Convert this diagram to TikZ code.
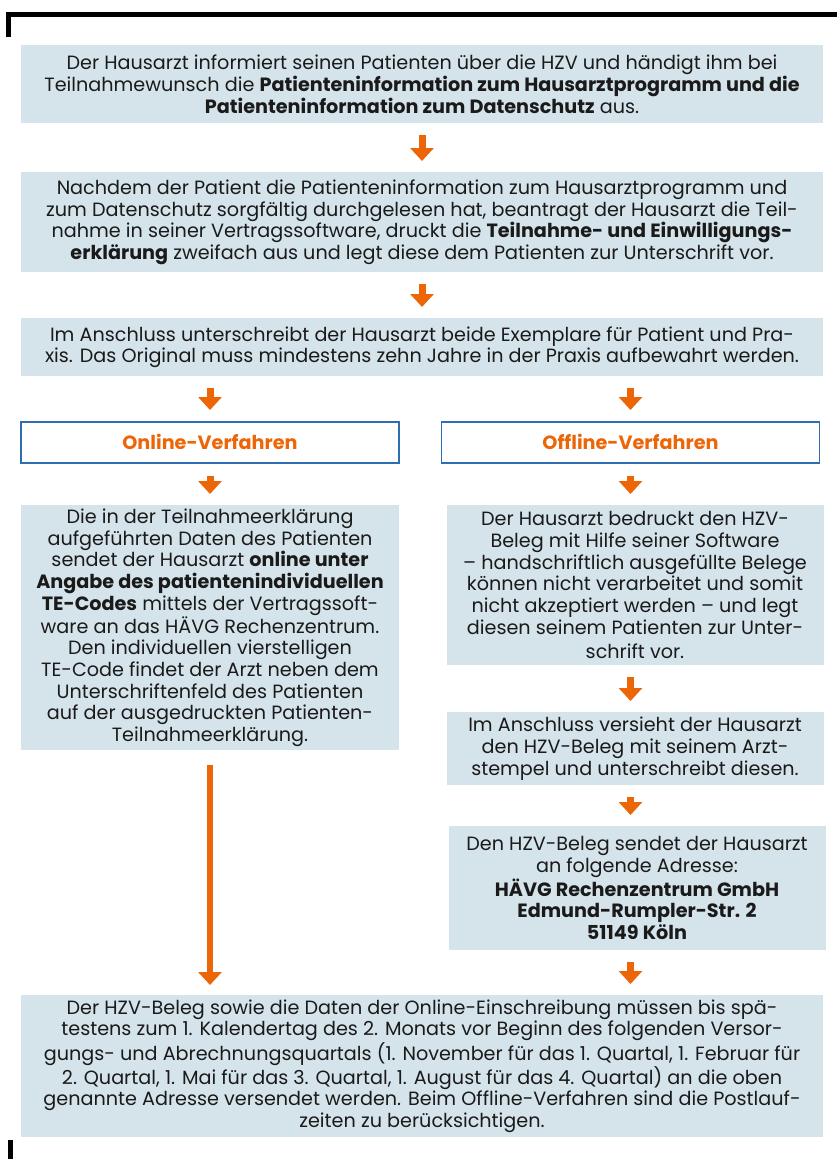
\documentclass[tikz,border=0pt]{standalone}
\usepackage{fontspec}
\setmainfont{Poppins}
\usetikzlibrary{arrows.meta}

\definecolor{hzvblue}{HTML}{D5E4EB}
\definecolor{hzvorange}{HTML}{EC6608}
\definecolor{hzvframe}{HTML}{2F6DB3}
\definecolor{hzvtext}{HTML}{1A1A1A}

\begin{document}
\begin{tikzpicture}[x=1pt, y=-1pt,
  every node/.style={font=\fontsize{19.2}{21.7}\selectfont, text=hzvtext, align=center, anchor=north, inner sep=2pt},
  box/.style={fill=hzvblue, minimum width=#1},
  head/.style={draw=hzvframe, line width=1.5pt, fill=white, minimum width=378pt, minimum height=41pt, text=hzvorange, font=\fontsize{19.2}{21.7}\selectfont\bfseries},
  arr/.style={draw=hzvorange, line width=7pt, -{Triangle[width=23pt,length=13pt]}, shorten <=12pt, shorten >=11pt}]

\useasboundingbox (0,0) rectangle (837,1159);

% frame corners
\draw[line width=5pt] (8.5,37) -- (8.5,14) -- (837,14);
\draw[line width=5pt] (10.5,1140) -- (10.5,1159);

% common steps
\node[box=802pt, minimum height=78pt] (info) at (422,45)
  {Der Hausarzt informiert seinen Patienten über die HZV und händigt ihm bei\\
   Teilnahmewunsch die \textbf{Patienteninformation zum Hausarztprogramm und die}\\
   \textbf{Patienteninformation zum Datenschutz} aus.};
\node[box=802pt, minimum height=100pt] (antrag) at (422,172)
  {Nachdem der Patient die Patienteninformation zum Hausarztprogramm und\\
   zum Datenschutz sorgfältig durchgelesen hat, beantragt der Hausarzt die Teil-\\
   nahme in seiner Vertragssoftware, druckt die \textbf{Teilnahme- und Einwilligungs-}\\
   \textbf{erklärung} zweifach aus und legt diese dem Patienten zur Unterschrift vor.};
\node[box=802pt, minimum height=58pt] (sign) at (422,318)
  {Im Anschluss unterschreibt der Hausarzt beide Exemplare für Patient und Pra-\\
   xis. Das Original muss mindestens zehn Jahre in der Praxis aufbewahrt werden.};

% the two ways
\node[head] (online) at (210,421) {Online-Verfahren};
\node[head] (offline) at (630.5,421) {Offline-Verfahren};

\node[box=378pt, minimum height=245pt] (onsend) at (210,505)
  {Die in der Teilnahmeerklärung\\
   aufgeführten Daten des Patienten\\
   sendet der Hausarzt \textbf{online unter}\\
   \textbf{Angabe des patientenindividuellen}\\
   \textbf{TE-Codes} mittels der Vertragssoft-\\
   ware an das HÄVG Rechenzentrum.\\
   Den individuellen vierstelligen\\
   TE-Code findet der Arzt neben dem\\
   Unterschriftenfeld des Patienten\\
   auf der ausgedruckten Patienten-\\
   Teilnahmeerklärung.};

\node[box=377pt, minimum height=160pt] (offprint) at (635,505)
  {Der Hausarzt bedruckt den HZV-\\
   Beleg mit Hilfe seiner Software\\
   – handschriftlich ausgefüllte Belege\\
   können nicht verarbeitet und somit\\
   nicht akzeptiert werden – und legt\\
   diesen seinem Patienten zur Unter-\\[3pt]
   schrift vor.};
\node[box=377pt, minimum height=73pt] (offstamp) at (635,712)
  {Im Anschluss versieht der Hausarzt\\
   den HZV-Beleg mit seinem Arzt-\\
   stempel und unterschreibt diesen.};
\node[box=377pt, minimum height=124pt] (offaddr) at (637,826)
  {Den HZV-Beleg sendet der Hausarzt\\
   an folgende Adresse:\\
   \textbf{HÄVG Rechenzentrum GmbH}\\
   \textbf{Edmund-Rumpler-Str. 2}\\
   \textbf{51149 Köln}};

% deadline
\node[box=802pt, minimum height=142pt] (frist) at (422,995)
  {Der HZV-Beleg sowie die Daten der Online-Einschreibung müssen bis spä-\\
   testens zum 1. Kalendertag des 2. Monats vor Beginn des folgenden Versor-\\
   gungs- und Abrechnungsquartals (1. November für das 1. Quartal, 1. Februar für\\
   2. Quartal, 1. Mai für das 3. Quartal, 1. August für das 4. Quartal) an die oben\\
   genannte Adresse versendet werden. Beim Offline-Verfahren sind die Postlauf-\\
   zeiten zu berücksichtigen.};

\draw[arr] (info) -- (antrag);
\draw[arr] (antrag) -- (sign);
\draw[arr] (sign.south -| online) -- (online);
\draw[arr] (sign.south -| offline) -- (offline);
\draw[arr] (online) -- (online |- onsend.north);
\draw[arr] (offline) -- (offline |- offprint.north);
\draw[arr] (offline |- offprint.south) -- (offline |- offstamp.north);
\draw[arr] (offline |- offstamp.south) -- (offline |- offaddr.north);
\draw[arr] (offline |- offaddr.south) -- (offline |- frist.north);
\draw[arr, line width=6pt, shorten <=15pt, shorten >=10pt] (onsend) -- (onsend |- frist.north);

\end{tikzpicture}
\end{document}
